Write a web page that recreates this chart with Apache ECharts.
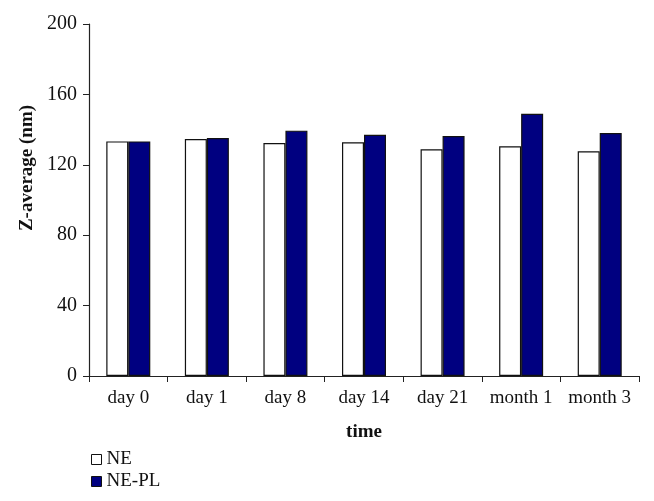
<!DOCTYPE html>
<html>
<head>
<meta charset="utf-8">
<script src="https://cdn.jsdelivr.net/npm/echarts@6/dist/echarts.min.js"></script>
<style>
  html, body { margin: 0; padding: 0; background: #fff; }
  #chart { width: 654px; height: 501px; }
</style>
</head>
<body>
<div id="chart"></div>
<script>
const categories = ['day 0', 'day 1', 'day 8', 'day 14', 'day 21', 'month 1', 'month 3']
const neValues = [133.3, 134.6, 132.4, 132.8, 128.8, 130.5, 127.7]
const neplValues = [133.3, 135.2, 139.4, 137.1, 136.3, 149.0, 138.0]
const yTicks = { min: 0, max: 200, interval: 40 }

const font = 'Liberation Serif'
const chart = echarts.init(document.getElementById('chart'))

chart.setOption({
  animation: false,
  textStyle: { fontFamily: font },
  grid: { left: 89, right: 15, top: 24, bottom: 125 },
  legend: {
    orient: 'vertical',
    left: 86,
    top: 445,
    itemWidth: 10,
    itemHeight: 10,
    itemGap: 3,
    textStyle: { fontFamily: font, fontSize: 19, color: '#111' },
    data: [
      { name: 'NE', icon: 'rect', itemStyle: { color: '#fff', borderColor: '#111', borderWidth: 1 } },
      { name: 'NE-PL', icon: 'rect', itemStyle: { color: '#000080', borderColor: '#111', borderWidth: 1 } },
    ],
  },
  xAxis: {
    type: 'category',
    data: categories,
    name: 'time',
    nameLocation: 'middle',
    nameGap: 47,
    nameTextStyle: { fontFamily: font, fontSize: 19, fontWeight: 'bold', color: '#111' },
    axisLine: { lineStyle: { color: '#222', width: 1.2 } },
    axisTick: { show: true, length: 6, lineStyle: { color: '#222' } },
    axisLabel: { fontFamily: font, fontSize: 19, color: '#111', margin: 13, interval: 0 },
  },
  yAxis: {
    type: 'value',
    min: yTicks.min,
    max: yTicks.max,
    interval: yTicks.interval,
    name: 'Z-average (nm)',
    nameLocation: 'middle',
    nameGap: 52,
    nameTextStyle: { fontFamily: font, fontSize: 19, fontWeight: 'bold', color: '#111', padding: [0, 0, 0, 64] },
    axisLine: { show: true, lineStyle: { color: '#222', width: 1.2 } },
    axisTick: { show: true, length: 6, lineStyle: { color: '#222' } },
    axisLabel: { fontFamily: font, fontSize: 20, color: '#111', margin: 12 },
    splitLine: { show: false },
  },
  series: [
    {
      name: 'NE',
      type: 'bar',
      data: neValues,
      barWidth: 22,
      barGap: '0%',
      itemStyle: { color: '#fff', borderColor: '#111', borderWidth: 1.2 },
    },
    {
      name: 'NE-PL',
      type: 'bar',
      data: neplValues,
      barWidth: 22,
      barGap: '0%',
      itemStyle: { color: '#000080', borderColor: '#111', borderWidth: 1.2 },
    },
  ],
})
</script>
</body>
</html>
